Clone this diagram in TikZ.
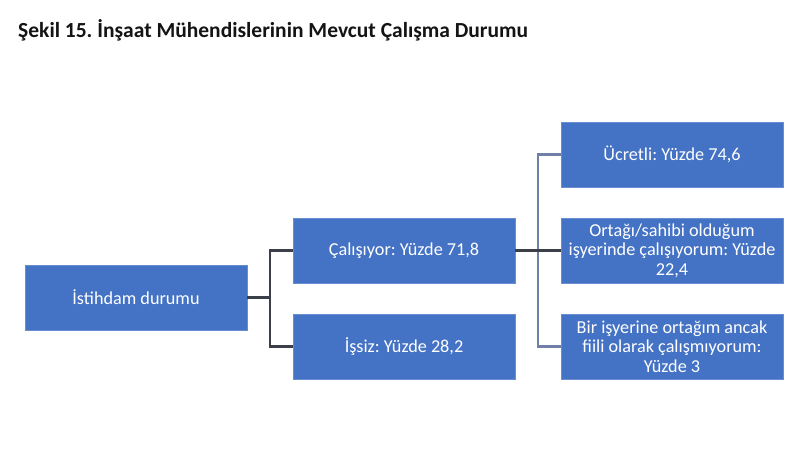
\documentclass[tikz,border=0pt]{standalone}
\usepackage{fontspec}
\setmainfont{Carlito}
\usetikzlibrary{calc}
\frenchspacing
\definecolor{boxblue}{HTML}{4472C4}
\definecolor{darkline}{HTML}{3A3F48}
\definecolor{blueline}{HTML}{6F7FA8}
\tikzset{
  box/.style={rectangle, fill=boxblue, draw=boxblue!80!white, line width=0.8pt, text=white,
    minimum width=222pt, minimum height=65pt, inner sep=2pt, align=center,
    font=\fontsize{18.2}{19.5}\selectfont},
  conn/.style={draw=darkline, line width=2.2pt},
  bconn/.style={draw=blueline, line width=2.2pt},
}
\begin{document}
\begin{tikzpicture}[x=1pt,y=-1pt]
\useasboundingbox[fill=white] (0,0) rectangle (800,463);
\node[anchor=base west, inner sep=0pt, font=\fontsize{21.5}{23}\selectfont\bfseries, text=black!92] (title) at (18,37) {Şekil 15. İnşaat Mühendislerinin Mevcut Çalışma Durumu};
\node[box] (ist) at (136,297.5) {İstihdam durumu};
\node[box] (cal) at (404,250.5) {Çalışıyor: Yüzde 71,8};
\node[box] (issiz) at (404,346.5) {İşsiz: Yüzde 28,2};
\node[box] (ucr) at (672,154.5) {Ücretli: Yüzde 74,6};
\node[box] (ort) at (672,250.5) {Ortağı/sahibi olduğum\\işyerinde çalışıyorum: Yüzde\\22,4};
\node[box] (bir) at (672,346.5) {Bir işyerine ortağım ancak\\fiili olarak çalışmıyorum:\\Yüzde 3};
\coordinate (j1) at ($(ist.east)!0.5!(cal.west|-ist.east)$);
\draw[conn] (cal.west) -| (j1) |- (issiz.west);
\draw[conn] (ist.east) -- (j1);
\coordinate (j2) at ($(cal.east)!0.5!(ort.west)$);
\draw[bconn] (ucr.west) -| (j2) |- (bir.west);
\draw[conn] (cal.east) -- (ort.west);
\end{tikzpicture}
\end{document}
